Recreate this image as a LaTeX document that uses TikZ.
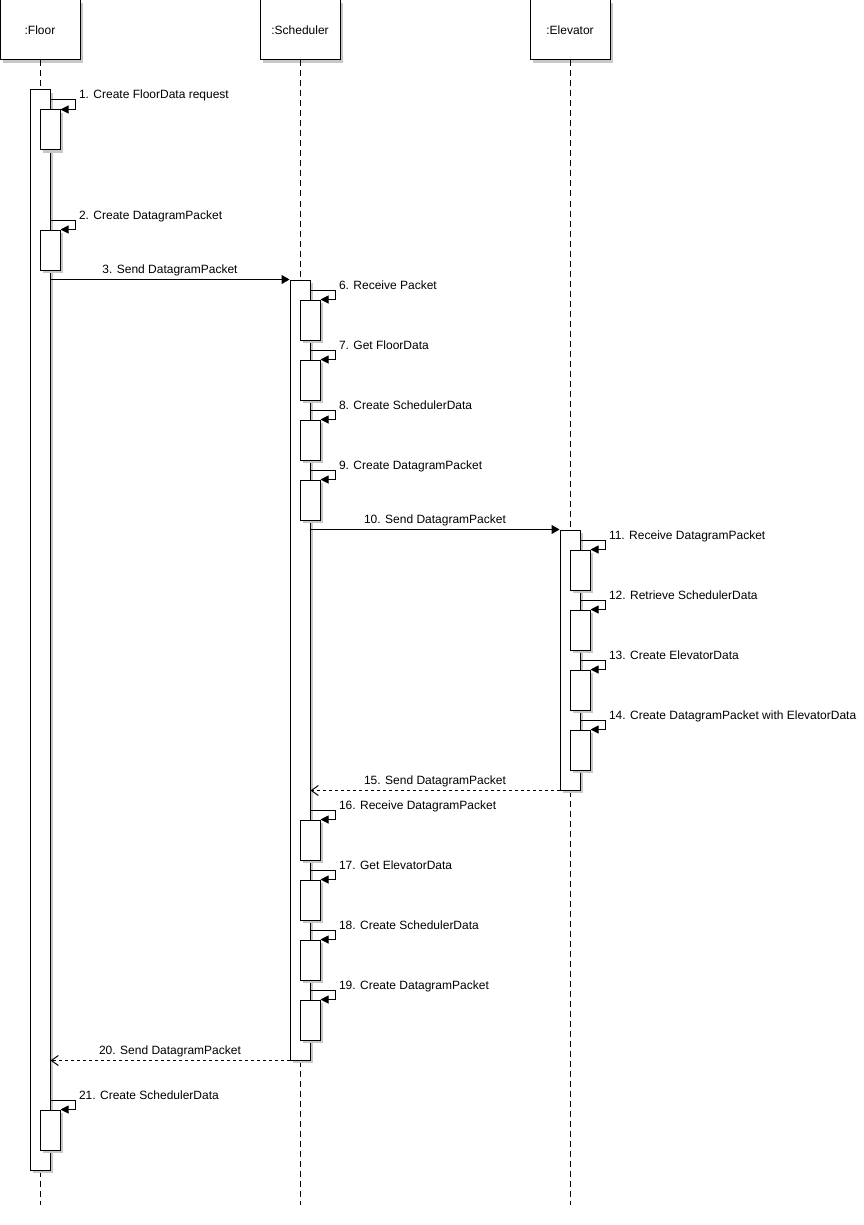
\documentclass[tikz,border=0pt]{standalone}
\usepackage{fontspec}
\setmainfont{Liberation Sans}
\usepackage{tikz}
\usetikzlibrary{arrows.meta,positioning,shadows,calc}
\usepackage{xcolor}
\definecolor{sqshadow}{RGB}{200,200,200}
\tikzstyle{actor} = [rectangle, draw, fill=white, inner sep=0, minimum width=80, minimum height=60, drop shadow={shadow xshift=3pt, shadow yshift=-3pt, fill=sqshadow, opacity=1}]
\tikzstyle{activation} = [rectangle, draw, fill=white, inner sep=0, minimum width=20, drop shadow={shadow xshift=3pt, shadow yshift=-3pt, fill=sqshadow, opacity=1}]
\tikzstyle{subact} = [activation, minimum height=40]
\tikzstyle{lifeline} = [dash pattern=on 6pt off 4pt]
\tikzstyle{msg} = [-{Triangle[length=8pt,width=9pt]}]
\tikzstyle{reply} = [-{Straight Barb[length=7pt,width=10pt]}, dash pattern=on 3pt off 3pt]
\tikzstyle{selfcall} = [-{Triangle[length=8pt,width=8pt]}]
\tikzstyle{msglabel} = [anchor=base, yshift=6pt, inner sep=0]
\tikzstyle{calllabel} = [anchor=base west, xshift=3pt, yshift=1pt, inner sep=0]

\begin{document}
\begin{tikzpicture}[x=1pt, y=-1pt, line width=1pt, font=\fontsize{12}{14}\selectfont]
\useasboundingbox (0,0) rectangle (863,1225);

% Participants
\node[actor] (floor) at (40,30) {:Floor};
\node[actor] (sched) at (300,30) {:Scheduler};
\node[actor] (elev) at (570,30) {:Elevator};

% Lifelines
\foreach \p in {floor,sched,elev}
  \draw[lifeline] (\p.south) -- (\p.south |- 0,1205);

% Activations
\node[activation, minimum height=1080] (fa) at (40,630) {};
\node[activation, minimum height=780] (sa) at (300,670) {};
\node[activation, minimum height=260] (ea) at (570,660) {};

% Floor self calls
\foreach \y/\n/\t in {100/f1/1. Create FloorData request, 220/f2/2. Create DatagramPacket, 1100/f21/21. Create SchedulerData} {
  \node[subact] (\n) at (50,\y+30) {};
  \draw[selfcall] (fa.east |- 0,\y) -- ++(25,0) node[calllabel] {\t} |- (\n.north east);
}

% Scheduler self calls
\foreach \y/\n/\t in {290/s6/6. Receive Packet, 350/s7/7. Get FloorData, 410/s8/8. Create SchedulerData, 470/s9/9. Create DatagramPacket, 810/s16/16. Receive DatagramPacket, 870/s17/17. Get ElevatorData, 930/s18/18. Create SchedulerData, 990/s19/19. Create DatagramPacket} {
  \node[subact] (\n) at (310,\y+30) {};
  \draw[selfcall] (sa.east |- 0,\y) -- ++(25,0) node[calllabel] {\t} |- (\n.north east);
}

% Elevator self calls
\foreach \y/\n/\t in {540/e11/11. Receive DatagramPacket, 600/e12/12. Retrieve SchedulerData, 660/e13/13. Create ElevatorData, 720/e14/14. Create DatagramPacket with ElevatorData} {
  \node[subact] (\n) at (580,\y+30) {};
  \draw[selfcall] (ea.east |- 0,\y) -- ++(25,0) node[calllabel] {\t} |- (\n.north east);
}

% Messages
\draw[msg] (fa.east |- sa.north) -- node[msglabel] {3. Send DatagramPacket} (sa.north west);
\draw[msg] (sa.east |- ea.north) -- node[msglabel] {10. Send DatagramPacket} (ea.north west);
\draw[reply] (ea.south west) -- node[msglabel] {15. Send DatagramPacket} (sa.east |- ea.south);
\draw[reply] (sa.south west) -- node[msglabel] {20. Send DatagramPacket} (fa.east |- sa.south);
\end{tikzpicture}
\end{document}
